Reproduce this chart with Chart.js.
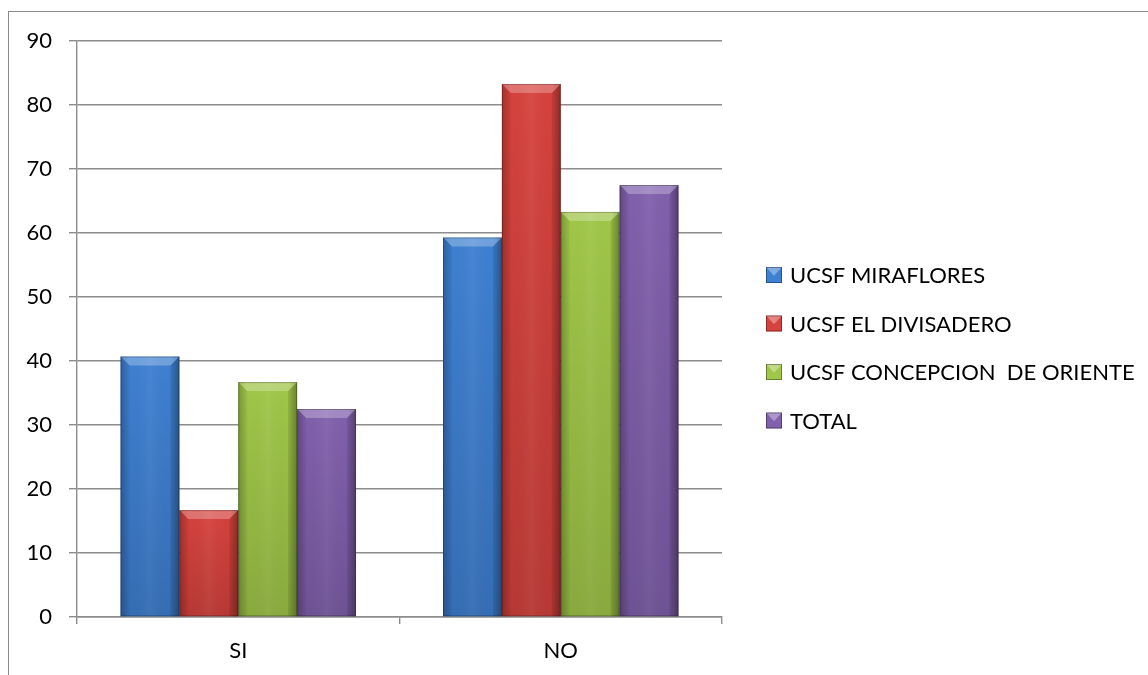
<!DOCTYPE html>
<html>
<head>
<meta charset="utf-8">
<script src="https://cdn.jsdelivr.net/npm/chart.js@4"></script>
<style>
  html, body { margin: 0; padding: 0; background: #fff; }
  #wrap { position: relative; width: 1148px; height: 675px; overflow: hidden; }
  #frame { position: absolute; left: 8px; top: 11px; width: 1200px; height: 700px;
           border-top: 1px solid #8a8a8a; border-left: 1px solid #8a8a8a; }
  canvas { position: absolute; left: 0; top: 0; }
</style>
</head>
<body>
<div id="wrap">
  <div id="frame"></div>
  <canvas id="c" width="1148" height="675"></canvas>
</div>
<script>
// Response categories
const categories = ['SI', 'NO'];

// Percentages per health unit
const seriesNames = ['UCSF MIRAFLORES', 'UCSF EL DIVISADERO', 'UCSF CONCEPCION  DE ORIENTE', 'TOTAL'];
const miraflores = [40.7, 59.3];
const divisadero = [16.7, 83.3];
const concepcion = [36.7, 63.3];
const total = [32.5, 67.5];

// Value axis
const yMin = 0;
const yMax = 90;
const yStep = 10;

const seriesColors = ['#3e80d2', '#d6423d', '#a0c748', '#8160ad'];
const FONT = 'Lato, "Open Sans", sans-serif';
const GRID = '#8c8c8c';

// Bevelled look for each bar, laid over the library-drawn rectangles
const bevelPlugin = {
  id: 'bevel',
  afterDatasetsDraw(chart) {
    const ctx = chart.ctx;
    chart.data.datasets.forEach((ds, di) => {
      const meta = chart.getDatasetMeta(di);
      meta.data.forEach(bar => {
        const p = bar.getProps(['x', 'y', 'base', 'width'], true);
        const l = p.x - p.width / 2, r = p.x + p.width / 2;
        const t = Math.min(p.y, p.base), b = Math.max(p.y, p.base);
        const w = r - l, h = b - t;
        const bv = 9;
        ctx.save();
        // side shading
        let g = ctx.createLinearGradient(l, 0, r, 0);
        g.addColorStop(0, 'rgba(0,0,0,0.2)');
        g.addColorStop(0.14, 'rgba(0,0,0,0.0)');
        g.addColorStop(0.5, 'rgba(255,255,255,0.05)');
        g.addColorStop(0.86, 'rgba(0,0,0,0.0)');
        g.addColorStop(1, 'rgba(0,0,0,0.26)');
        ctx.fillStyle = g;
        ctx.fillRect(l, t, w, h);
        // darker towards the base
        g = ctx.createLinearGradient(0, t, 0, b);
        g.addColorStop(0, 'rgba(0,0,0,0)');
        g.addColorStop(1, 'rgba(0,0,0,0.14)');
        ctx.fillStyle = g;
        ctx.fillRect(l, t, w, h);
        // top bevel
        ctx.beginPath();
        ctx.moveTo(l, t); ctx.lineTo(r, t);
        ctx.lineTo(r - bv, t + bv); ctx.lineTo(l + bv, t + bv);
        ctx.closePath();
        ctx.fillStyle = 'rgba(255,255,255,0.26)';
        ctx.fill();
        // left and right bevel edges
        ctx.beginPath();
        ctx.moveTo(l, t); ctx.lineTo(l + bv, t + bv); ctx.lineTo(l + bv, b); ctx.lineTo(l, b);
        ctx.closePath();
        ctx.fillStyle = 'rgba(0,0,0,0.05)';
        ctx.fill();
        ctx.beginPath();
        ctx.moveTo(r, t); ctx.lineTo(r - bv, t + bv); ctx.lineTo(r - bv, b); ctx.lineTo(r, b);
        ctx.closePath();
        ctx.fillStyle = 'rgba(0,0,0,0.1)';
        ctx.fill();
        // outline
        ctx.strokeStyle = 'rgba(0,0,0,0.25)';
        ctx.lineWidth = 1;
        ctx.strokeRect(l + 0.5, t + 0.5, w - 1, h - 1);
        ctx.restore();
      });
    });
  }
};

// Legend at the right, with small bevelled swatches
const sideLegend = {
  id: 'sideLegend',
  afterDraw(chart) {
    const ctx = chart.ctx;
    const x0 = 766, y0 = 275, gap = 48.5, sz = 16;
    ctx.save();
    ctx.font = '22px ' + FONT;
    ctx.textBaseline = 'middle';
    chart.data.datasets.forEach((ds, i) => {
      const cy = y0 + i * gap;
      const top = cy - sz / 2;
      ctx.fillStyle = ds.backgroundColor;
      ctx.fillRect(x0, top, sz, sz);
      ctx.beginPath();
      ctx.moveTo(x0, top); ctx.lineTo(x0 + sz, top); ctx.lineTo(x0 + sz / 2, top + sz * 0.55);
      ctx.closePath();
      ctx.fillStyle = 'rgba(255,255,255,0.35)';
      ctx.fill();
      ctx.strokeStyle = 'rgba(0,0,0,0.35)';
      ctx.strokeRect(x0 + 0.5, top + 0.5, sz - 1, sz - 1);
      ctx.fillStyle = '#000';
      ctx.fillText(ds.label, x0 + 24, cy + 1);
    });
    ctx.restore();
  }
};

const seriesData = [miraflores, divisadero, concepcion, total];

new Chart(document.getElementById('c'), {
  type: 'bar',
  data: {
    labels: categories,
    datasets: seriesNames.map((name, i) => ({
      label: name,
      data: seriesData[i],
      backgroundColor: seriesColors[i],
      borderWidth: 0,
      categoryPercentage: 0.73,
      barPercentage: 1.0
    }))
  },
  options: {
    responsive: false,
    animation: false,
    devicePixelRatio: 1,
    layout: { padding: { left: 0, top: 41, right: 426, bottom: 0 } },
    plugins: { legend: { display: false }, tooltip: { enabled: false } },
    scales: {
      x: {
        afterFit(s) { s.height = 58; },
        grid: { offset: true, drawOnChartArea: false, tickLength: 7, color: GRID, lineWidth: 1.4 },
        border: { color: GRID, width: 1.4 },
        ticks: { color: '#000', font: { family: FONT, size: 22 }, padding: 14 }
      },
      y: {
        min: yMin, max: yMax,
        afterFit(s) { s.width = 77; },
        grid: { color: GRID, lineWidth: 1.4, tickLength: 8 },
        border: { color: GRID, width: 1.4 },
        ticks: { stepSize: yStep, color: '#000', font: { family: FONT, size: 22 }, padding: 17 }
      }
    }
  },
  plugins: [bevelPlugin, sideLegend]
});
</script>
</body>
</html>
